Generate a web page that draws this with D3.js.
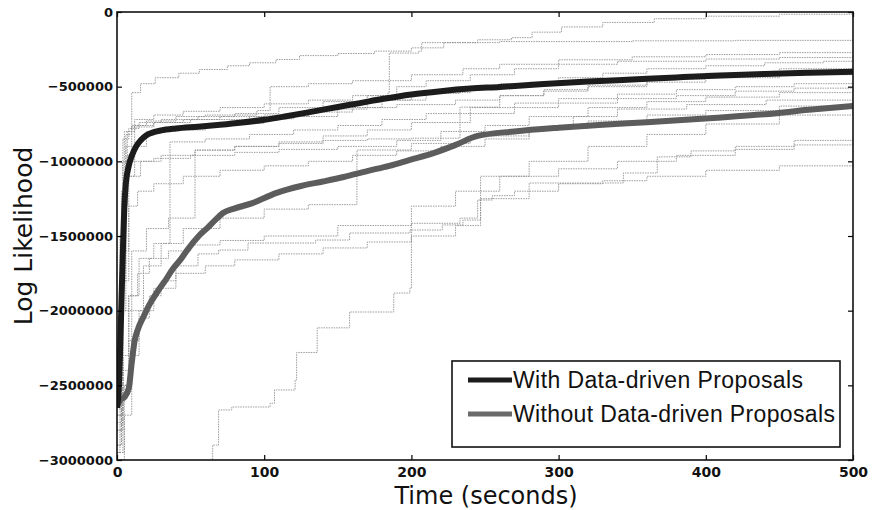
<!DOCTYPE html>
<html>
<head>
<meta charset="utf-8">
<script src="https://cdn.jsdelivr.net/npm/d3@7/dist/d3.min.js"></script>
<style>
  html, body { margin: 0; padding: 0; background: #fff; }
  svg { display: block; }
</style>
</head>
<body>
<svg id="chart" width="872" height="510"></svg>
<script>
// ---------- DATA (time in seconds, log likelihood in thousands) ----------
const UNIT = 1000;
const xTicks = [0, 100, 200, 300, 400, 500];
const xTickLabels = ["0", "100", "200", "300", "400", "500"];
const yTicks = [0, -500000, -1000000, -1500000, -2000000, -2500000, -3000000];
const yTickLabels = ["0", "\u2212500000", "\u22121000000", "\u22121500000", "\u22122000000", "\u22122500000", "\u22123000000"];
const seriesNames = ["With Data-driven Proposals", "Without Data-driven Proposals"];

const withTimes  = [0, 1, 2, 3, 4, 5, 6, 8, 10, 13, 16, 20, 25, 30, 40, 55, 70, 85, 100, 115, 130, 150, 165, 180, 200, 220, 240, 260, 290, 320, 350, 380, 410, 440, 470, 500];
const withValues = [-2650, -2550, -2300, -1950, -1600, -1300, -1150, -1030, -965, -900, -860, -825, -805, -793, -780, -768, -755, -740, -722, -698, -672, -636, -610, -583, -552, -530, -513, -502, -482, -466, -452, -438, -425, -415, -407, -400];

const withoutTimes  = [0, 2, 5, 8, 10, 12, 14, 18, 22, 27, 33, 38, 43, 48, 56, 62, 67, 72, 80, 92, 108, 125, 140, 154, 170, 185, 199, 215, 230, 245, 270, 300, 330, 360, 405, 440, 470, 500];
const withoutValues = [-2640, -2600, -2580, -2520, -2350, -2200, -2130, -2040, -1960, -1880, -1795, -1720, -1660, -1590, -1495, -1440, -1390, -1346, -1315, -1280, -1213, -1165, -1135, -1105, -1065, -1030, -990, -945, -890, -830, -800, -775, -755, -738, -710, -685, -655, -630];

// individual runs (thin lines), each a list of [time, value] steps
const runs = [
  [[0,-2950],[2,-2000],[4,-1300],[7,-960],[10,-540],[16,-480],[26,-440],[42,-410],[56,-385],[75,-360],[90,-340],[108,-318],[124,-292],[150,-278],[175,-262],[200,-240],[222,-205],[245,-186],[268,-172],[282,-135],[302,-100],[330,-70],[365,-45],[400,-28],[450,-15],[500,-5]],
  [[0,-2800],[3,-1800],[6,-900],[12,-720],[25,-690],[45,-665],[70,-640],[100,-615],[130,-590],[160,-560],[184,-542],[185,-275],[205,-262],[207,-205],[260,-198],[350,-193],[420,-190],[500,-188]],
  [[0,-2700],[3,-1400],[5,-800],[10,-760],[20,-730],[40,-700],[60,-690],[95,-660],[104,-500],[130,-480],[160,-460],[200,-420],[235,-380],[260,-350],[300,-320],[350,-300],[400,-285],[450,-272],[500,-265]],
  [[0,-2600],[2,-1500],[4,-850],[8,-780],[15,-740],[30,-720],[55,-700],[80,-680],[110,-640],[140,-600],[170,-560],[190,-500],[210,-460],[240,-420],[270,-380],[300,-350],[340,-330],[400,-315],[450,-305],[500,-295]],
  [[0,-2900],[3,-2000],[6,-1000],[12,-900],[20,-800],[36,-790],[60,-760],[80,-745],[100,-715],[120,-700],[150,-640],[180,-590],[210,-545],[233,-520],[260,-480],[300,-440],[330,-410],[360,-380],[400,-360],[440,-340],[480,-330],[500,-321]],
  [[0,-2750],[4,-1600],[8,-1100],[16,-1000],[30,-960],[53,-925],[80,-900],[110,-880],[140,-860],[170,-850],[200,-845],[233,-637],[260,-560],[290,-520],[320,-490],[360,-450],[400,-410],[450,-380],[500,-355]],
  [[0,-2500],[3,-1200],[6,-820],[10,-770],[25,-740],[50,-720],[90,-700],[130,-650],[170,-590],[200,-540],[240,-500],[280,-470],[330,-450],[380,-430],[440,-405],[500,-390]],
  [[0,-2950],[4,-2400],[8,-1900],[15,-1650],[25,-1550],[36,-870],[60,-850],[90,-820],[120,-790],[150,-760],[180,-720],[210,-680],[240,-640],[270,-610],[300,-580],[340,-550],[380,-520],[420,-500],[460,-480],[500,-466]],
  [[0,-2650],[4,-2000],[10,-1600],[20,-1450],[35,-1380],[53,-925],[80,-900],[110,-870],[140,-830],[170,-790],[200,-740],[240,-680],[270,-640],[300,-610],[340,-580],[380,-560],[420,-530],[460,-510],[500,-495]],
  [[0,-2400],[3,-1600],[6,-1100],[12,-1000],[25,-980],[50,-960],[80,-940],[110,-920],[150,-900],[190,-860],[220,-800],[250,-760],[280,-700],[320,-640],[360,-600],[400,-570],[450,-540],[500,-522]],
  [[0,-3000],[5,-2500],[10,-2000],[18,-1700],[30,-1550],[45,-1450],[70,-1380],[100,-1320],[130,-1290],[163,-924],[200,-880],[240,-830],[280,-780],[320,-730],[360,-690],[400,-660],[450,-630],[500,-600]],
  [[0,-2700],[4,-1800],[8,-1300],[14,-1200],[25,-1150],[45,-1100],[70,-1060],[100,-1030],[130,-1000],[160,-960],[190,-930],[220,-900],[250,-850],[280,-780],[310,-700],[340,-650],[387,-620],[441,-590],[500,-560]],
  [[0,-2950],[5,-2700],[10,-2300],[15,-2050],[22,-1900],[30,-1800],[40,-1700],[55,-1620],[69,-1594],[89,-1547],[135,-1527],[158,-1480],[199,-1460],[221,-1426],[235,-1393],[247,-1100],[280,-1000],[320,-900],[360,-820],[400,-750],[450,-690],[500,-640]],
  [[62,-3050],[65,-2900],[69,-2665],[78,-2645],[104,-2620],[107,-2531],[121,-2464],[122,-2280],[136,-2115],[158,-2009],[188,-1882],[199,-1850],[200,-1415],[233,-1380],[245,-1259],[255,-1230],[270,-1200],[300,-1150],[330,-1130],[360,-1100],[400,-1060],[450,-1030],[500,-1011]],
  [[0,-2900],[3,-2500],[8,-2200],[15,-2000],[25,-1850],[40,-1750],[60,-1700],[80,-1660],[110,-1620],[140,-1580],[170,-1540],[200,-1500],[230,-1430],[247,-1250],[280,-1145],[344,-1078],[367,-970],[390,-930],[420,-900],[460,-860],[500,-835]],
  [[0,-2800],[4,-2300],[8,-1900],[14,-1750],[22,-1650],[35,-1600],[50,-1560],[70,-1530],[100,-1500],[150,-1430],[200,-1300],[230,-1200],[260,-1100],[300,-1050],[340,-1000],[380,-960],[420,-920],[460,-890],[500,-868]],
  [[0,-2600],[2,-1900],[4,-1000],[7,-800],[12,-760],[25,-740],[45,-720],[70,-700],[100,-690],[130,-670],[160,-640],[190,-620],[230,-590],[260,-560],[290,-530],[320,-500],[360,-470],[400,-440],[450,-420],[500,-410]]
];

// ---------- LAYOUT ----------
const svg = d3.select("#chart");
const L = 117, R = 853, T = 12, B = 460;
const x = d3.scaleLinear().domain([0, 500]).range([L, R]);
const y = d3.scaleLinear().domain([-3000000, 0]).range([B, T]);

svg.append("defs").append("clipPath").attr("id", "plotclip")
  .append("rect").attr("x", L).attr("y", T).attr("width", R - L).attr("height", B - T);

const plot = svg.append("g").attr("clip-path", "url(#plotclip)");

// thin runs
const stepLine = d3.line()
  .x(d => x(d[0]))
  .y(d => y(d[1] * UNIT))
  .curve(d3.curveStepAfter);

plot.selectAll("path.run").data(runs).enter().append("path")
  .attr("class", "run")
  .attr("d", stepLine)
  .attr("fill", "none")
  .attr("stroke", "#8c8c8c")
  .attr("stroke-width", 1)
  .attr("stroke-dasharray", "1.5 1")
  .attr("opacity", 0.85);

// thick mean lines
const smooth = d3.line()
  .x(d => x(d[0]))
  .y(d => y(d[1] * UNIT))
  .curve(d3.curveMonotoneX);

const withData = withTimes.map((t, i) => [t, withValues[i]]);
const withoutData = withoutTimes.map((t, i) => [t, withoutValues[i]]);

plot.append("path").datum(withoutData)
  .attr("d", smooth).attr("fill", "none")
  .attr("stroke", "#5c5c5c").attr("stroke-width", 6)
  .attr("stroke-linejoin", "round");

plot.append("path").datum(withData)
  .attr("d", smooth).attr("fill", "none")
  .attr("stroke", "#1c1c1c").attr("stroke-width", 6)
  .attr("stroke-linejoin", "round");

// ---------- AXES ----------
const tickFont = "'DejaVu Sans', sans-serif";

const xAxis = d3.axisBottom(x).tickValues(xTicks)
  .tickFormat((d, i) => xTickLabels[i]).tickSizeInner(-5).tickSizeOuter(0).tickPadding(7);
const gx = svg.append("g").attr("transform", `translate(0,${B})`).call(xAxis);
gx.select(".domain").remove();
gx.selectAll("line").attr("stroke", "#000").attr("stroke-width", 1.2);
gx.selectAll("text").attr("font-family", tickFont).attr("font-weight", "bold")
  .attr("font-size", 14).attr("fill", "#111").attr("dy", "0.72em");

const xAxisTop = d3.axisTop(x).tickValues(xTicks).tickFormat("").tickSizeInner(-5).tickSizeOuter(0);
const gxt = svg.append("g").attr("transform", `translate(0,${T})`).call(xAxisTop);
gxt.select(".domain").remove();
gxt.selectAll("line").attr("stroke", "#000").attr("stroke-width", 1.2);

const yAxis = d3.axisLeft(y).tickValues(yTicks)
  .tickFormat((d, i) => yTickLabels[i]).tickSizeInner(-5).tickSizeOuter(0).tickPadding(4);
const gy = svg.append("g").attr("transform", `translate(${L},0)`).call(yAxis);
gy.select(".domain").remove();
gy.selectAll("line").attr("stroke", "#000").attr("stroke-width", 1.2);
gy.selectAll("text").attr("font-family", tickFont).attr("font-weight", "bold")
  .attr("font-size", 13).attr("fill", "#111");

const yAxisRight = d3.axisRight(y).tickValues(yTicks).tickFormat("").tickSizeInner(-5).tickSizeOuter(0);
const gyr = svg.append("g").attr("transform", `translate(${R},0)`).call(yAxisRight);
gyr.select(".domain").remove();
gyr.selectAll("line").attr("stroke", "#000").attr("stroke-width", 1.2);

// frame
svg.append("rect").attr("x", L).attr("y", T).attr("width", R - L).attr("height", B - T)
  .attr("fill", "none").attr("stroke", "#111").attr("stroke-width", 1.6);

// axis titles
svg.append("text").attr("x", (L + R) / 2 + 1).attr("y", 504)
  .attr("text-anchor", "middle").attr("font-family", tickFont)
  .attr("font-size", 24).attr("fill", "#111").text("Time (seconds)");

svg.append("text").attr("transform", `translate(32,${(T + B) / 2}) rotate(-90)`)
  .attr("text-anchor", "middle").attr("font-family", tickFont)
  .attr("font-size", 25).attr("fill", "#111").text("Log Likelihood");

// ---------- LEGEND ----------
const lg = svg.append("g");
lg.append("rect").attr("x", 452).attr("y", 361).attr("width", 388).attr("height", 86)
  .attr("fill", "#fff").attr("stroke", "#111").attr("stroke-width", 1.6);
const legendColors = ["#1c1c1c", "#6a6a6a"];
const legendY = [380, 414];
seriesNames.forEach((name, i) => {
  lg.append("line").attr("x1", 468).attr("x2", 512).attr("y1", legendY[i]).attr("y2", legendY[i])
    .attr("stroke", legendColors[i]).attr("stroke-width", 5);
  lg.append("text").attr("x", 513).attr("y", legendY[i] + 8)
    .attr("font-family", "'Liberation Sans', Arial, sans-serif")
    .attr("font-size", 23).attr("fill", "#111")
    .attr("textLength", i === 0 ? 290 : 322).attr("lengthAdjust", "spacing")
    .text(name);
});
</script>
</body>
</html>
